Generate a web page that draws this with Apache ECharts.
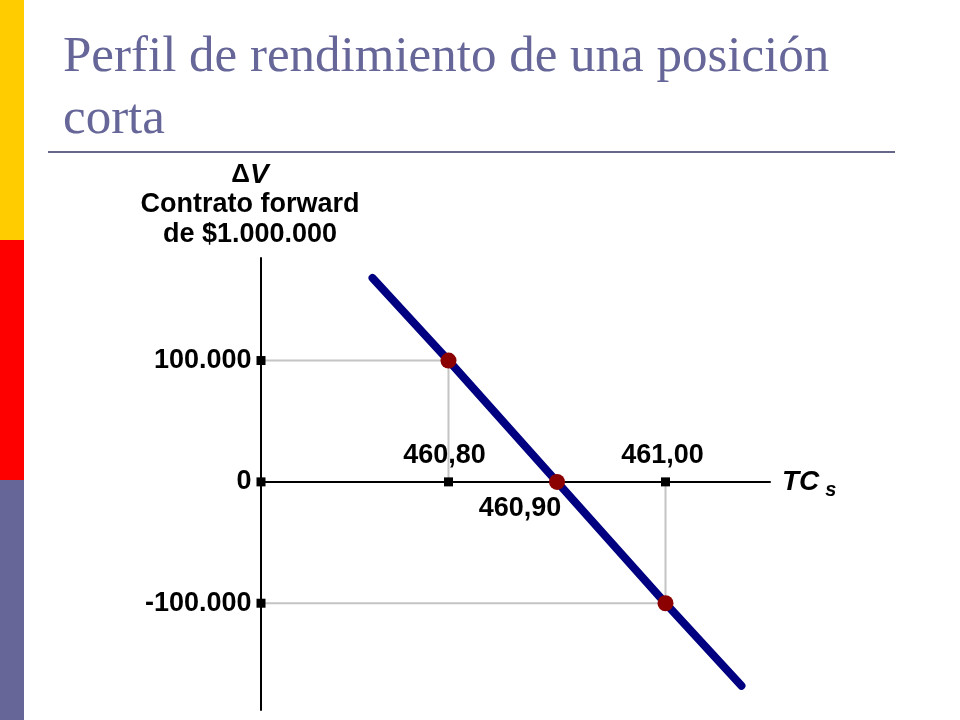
<!DOCTYPE html>
<html>
<head>
<meta charset="utf-8">
<script src="https://cdn.jsdelivr.net/npm/echarts@6/dist/echarts.min.js"></script>
<style>
html,body{margin:0;padding:0;background:#fff;}
#chart{width:960px;height:720px;}
</style>
</head>
<body>
<div id="chart"></div>
<script>
// ---- data ----
const titleText = 'Perfil de rendimiento de una posición\ncorta';
const yAxisTitle = ['ΔV', 'Contrato forward', 'de $1.000.000'];
const xAxisTitle = ['TC', 's'];
// payoff line of the short forward: exchange rate vs. change in value
const rateValues  = [460.73, 460.80, 460.90, 461.00, 461.07];
const deltaValues = [168000, 100000, 0, -100000, -168000];
// highlighted points
const pointRates  = [460.80, 460.90, 461.00];
const pointDeltas = [100000, 0, -100000];
// ticks
const yTickValues = [100000, 0, -100000];
const yTickLabels = ['100.000', '0', '-100.000'];
const xTickValues = [460.80, 460.90, 461.00];
const xTickLabels = ['460,80', '460,90', '461,00'];
// axis extents
const xMin = 460.6272, xMax = 461.0963;
const yMin = -188000, yMax = 184500;

const chart = echarts.init(document.getElementById('chart'), null, {renderer: 'canvas'});

const lineData = rateValues.map((r, i) => [r, deltaValues[i]]);
const pointData = pointRates.map((r, i) => [r, pointDeltas[i]]);

// guide lines from highlighted off-axis points to both axes
const guideSeries = pointData.filter(p => p[1] !== 0).map((p, i) => ({
  type: 'line', name: 'guide' + i, silent: true, z: 1,
  data: [[xMin, p[1]], [p[0], p[1]], [p[0], 0]],
  symbol: 'none',
  lineStyle: {color: '#c4c4c4', width: 2},
  animation: false
}));

const labelFont = {fontFamily: 'Liberation Sans, Arial, sans-serif', fontWeight: 'bold', fontSize: 27, color: '#000', opacity: 1};

const yTickData = yTickValues.map((v, i) => ({
  value: [xMin, v],
  label: Object.assign({show: true, position: 'left', distance: 5, formatter: yTickLabels[i]}, labelFont)
}));
const xLabelPos = [
  {position: 'top', offset: [-4, -3]},
  {position: 'bottom', offset: [-37, 4]},
  {position: 'top', offset: [-3, -3]}
];
const xTickData = xTickValues.map((v, i) => ({
  value: [v, 0],
  label: Object.assign({show: true, formatter: xTickLabels[i]}, xLabelPos[i], labelFont)
}));

const option = {
  backgroundColor: '#fff',
  animation: false,
  title: [
    {
      text: titleText, left: 58, top: 22,
      textStyle: {fontFamily: 'Liberation Serif, serif', fontWeight: 'normal', fontSize: 51, color: '#666699', lineHeight: 62}
    },
    {
      text: '{d|Δ}{v|V}\n{t|' + yAxisTitle[1] + '}\n{t|' + yAxisTitle[2] + '}',
      left: 245, top: 155, textAlign: 'center',
      textStyle: {
        rich: {
          d: {fontFamily: 'Liberation Sans, Arial, sans-serif', fontWeight: 'bold', fontSize: 26, lineHeight: 30, color: '#000'},
          v: {fontFamily: 'Liberation Sans, Arial, sans-serif', fontWeight: 'bold', fontStyle: 'italic', fontSize: 28, lineHeight: 30, color: '#000'},
          t: {fontFamily: 'Liberation Sans, Arial, sans-serif', fontWeight: 'bold', fontSize: 27, lineHeight: 30, color: '#000', align: 'center'}
        }
      }
    }
  ],
  graphic: [
    {type: 'rect', shape: {x: 0, y: 0, width: 24, height: 240}, style: {fill: '#FFCC00'}, silent: true},
    {type: 'rect', shape: {x: 0, y: 240, width: 24, height: 240}, style: {fill: '#FF0000'}, silent: true},
    {type: 'rect', shape: {x: 0, y: 480, width: 24, height: 240}, style: {fill: '#666699'}, silent: true},
    {type: 'line', shape: {x1: 48, y1: 152, x2: 895, y2: 152}, style: {stroke: '#666688', lineWidth: 2}, silent: true}
  ],
  grid: {left: 261, top: 258, width: 509, height: 452, containLabel: false},
  xAxis: {
    type: 'value', min: xMin, max: xMax,
    axisLine: {show: true, onZero: true, lineStyle: {color: '#000', width: 2}},
    axisTick: {show: false}, axisLabel: {show: false}, splitLine: {show: false},
    name: '{t|' + xAxisTitle[0] + '}{s|' + xAxisTitle[1] + '}',
    nameLocation: 'end', nameGap: 12,
    nameTextStyle: {
      rich: {
        t: {fontFamily: 'Liberation Sans, Arial, sans-serif', fontWeight: 'bold', fontStyle: 'italic', fontSize: 28, color: '#000'},
        s: {fontFamily: 'Liberation Sans, Arial, sans-serif', fontWeight: 'bold', fontStyle: 'italic', fontSize: 20, color: '#000', padding: [18, 0, 0, 6]}
      }
    }
  },
  yAxis: {
    type: 'value', min: yMin, max: yMax,
    axisLine: {show: true, onZero: false, lineStyle: {color: '#000', width: 2}},
    axisTick: {show: false}, axisLabel: {show: false}, splitLine: {show: false}
  },
  series: guideSeries.concat([
    {
      type: 'line', name: 'payoff', z: 3,
      data: lineData, symbol: 'none',
      lineStyle: {color: '#000080', width: 8, cap: 'round'}
    },
    {
      type: 'scatter', name: 'yticks', z: 4, clip: false,
      symbol: 'rect', symbolSize: 9, itemStyle: {color: '#000', opacity: 1},
      data: yTickData
    },
    {
      type: 'scatter', name: 'xticks', z: 4, clip: false,
      symbol: 'rect', symbolSize: 9, itemStyle: {color: '#000', opacity: 1},
      data: xTickData
    },
    {
      type: 'scatter', name: 'points', z: 5,
      symbol: 'circle', symbolSize: 16, itemStyle: {color: '#8B0000', opacity: 1},
      data: pointData
    }
  ])
};
chart.setOption(option);
</script>
</body>
</html>
